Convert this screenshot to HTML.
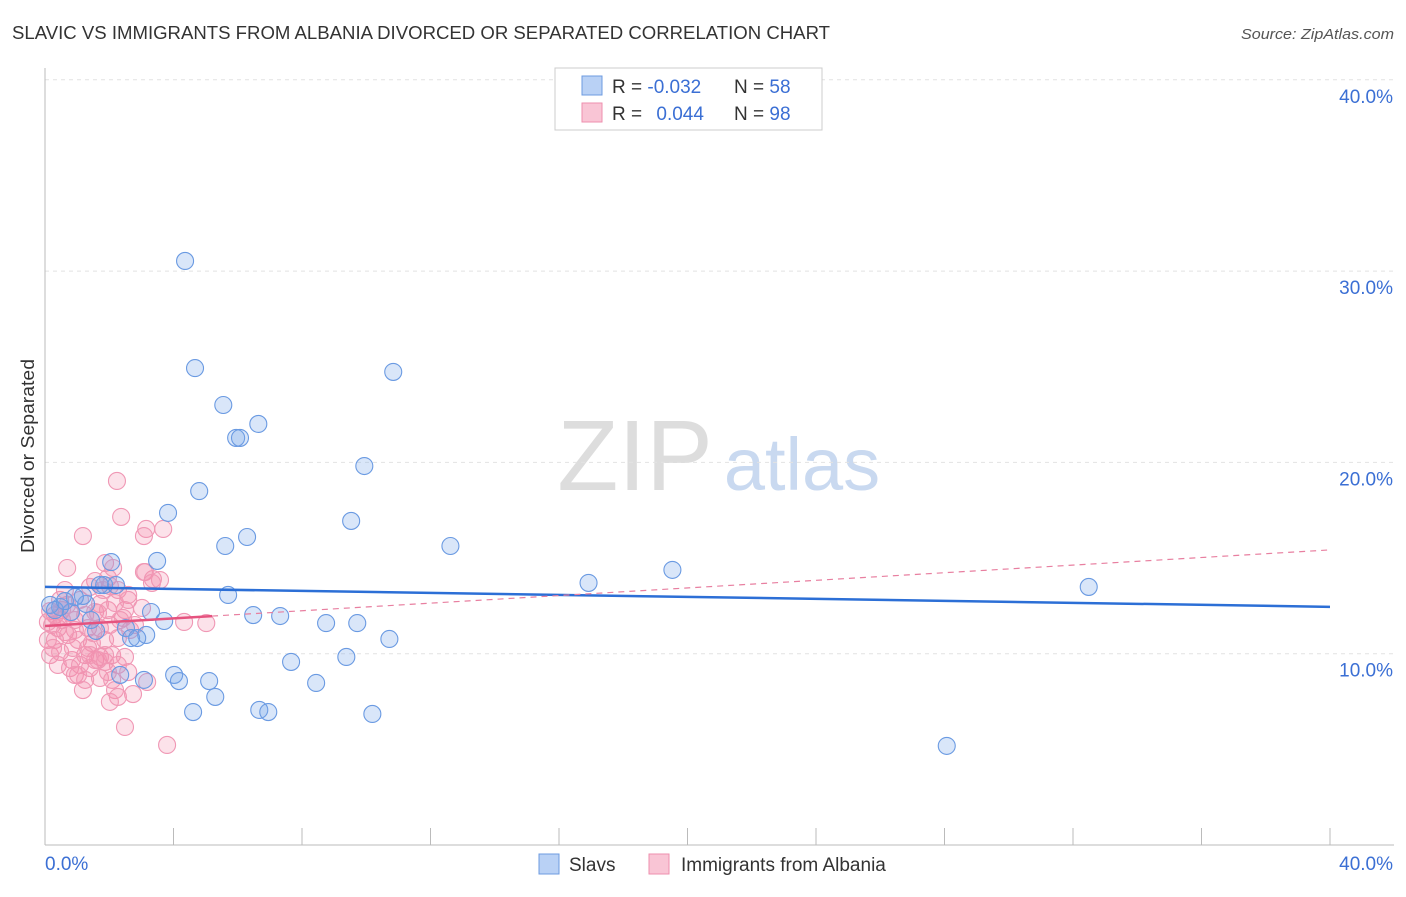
<!DOCTYPE html>
<html><head><meta charset="utf-8"><style>
body{margin:0;background:#fff;font-family:"Liberation Sans",sans-serif;}
svg text{font-family:"Liberation Sans",sans-serif;}
</style></head><body>
<svg id="chart" width="1406" height="892" viewBox="0 0 1406 892" xmlns="http://www.w3.org/2000/svg">
<text x="12" y="39" font-size="18" fill="#333" textLength="818" lengthAdjust="spacingAndGlyphs">SLAVIC VS IMMIGRANTS FROM ALBANIA DIVORCED OR SEPARATED CORRELATION CHART</text>
<text x="1394" y="39" font-size="15" fill="#555" text-anchor="end" font-style="italic" textLength="153" lengthAdjust="spacingAndGlyphs">Source: ZipAtlas.com</text>
<g>
<text x="635" y="490" font-size="100" fill="#ddd" text-anchor="middle" font-family="Liberation Serif, serif">ZIP</text>
<text x="802" y="490" font-size="74" fill="#c9d9f0" text-anchor="middle">atlas</text>
</g>
<g id="grid"></g>
<g id="axes"></g>
<text transform="translate(34,456) rotate(-90)" font-size="18" fill="#333" text-anchor="middle" textLength="194" lengthAdjust="spacingAndGlyphs">Divorced or Separated</text>
<g id="pts"></g>
<g id="trend"></g>
<g>
<rect x="555" y="68" width="267" height="62" fill="#fff" stroke="#ccc"/>
<rect x="582" y="76" width="20" height="19" fill="#b9d1f5" stroke="#6d9be0"/>
<rect x="582" y="103" width="20" height="19" fill="#f9c5d5" stroke="#ee8fae"/>
<text x="612" y="93" font-size="19" fill="#333">R = <tspan fill="#3b6fd4">-0.032</tspan><tspan x="734">N = </tspan><tspan fill="#3b6fd4">58</tspan></text>
<text x="612" y="120" font-size="19" fill="#333">R = <tspan fill="#3b6fd4" dx="9">0.044</tspan><tspan x="734">N = </tspan><tspan fill="#3b6fd4">98</tspan></text>
</g>
<g>
<rect x="539" y="854" width="20" height="20" fill="#b9d1f5" stroke="#6d9be0"/>
<text x="569" y="871" font-size="19" fill="#333">Slavs</text>
<rect x="649" y="854" width="20" height="20" fill="#f9c5d5" stroke="#ee8fae"/>
<text x="681" y="871" font-size="19" fill="#333">Immigrants from Albania</text>
</g>
</svg>
<script>
const yTicks=[10,20,30,40];
const yTickLabels=["10.0%","20.0%","30.0%","40.0%"];
const xEdgeLabels=["0.0%","40.0%"];
const slavsX=[4.36,4.67,10.84,5.55,6.64,5.95,6.07,9.94,4.80,9.53,3.83,6.29,5.61,12.62,3.49,2.06,16.92,19.53,32.49,5.70,1.84,2.21,3.30,3.71,6.48,7.32,8.75,9.72,2.52,3.15,2.68,2.87,10.72,1.59,0.81,0.47,7.66,9.38,4.02,4.17,5.11,3.08,8.44,5.30,4.61,6.67,6.95,10.19,28.07,0.16,0.31,1.28,1.43,1.18,0.93,0.62,1.71,2.34];
const slavsY=[30.53,24.93,24.73,23.0,22.01,21.28,21.28,19.81,18.5,16.94,17.36,16.1,15.63,15.63,14.85,14.79,13.70,14.38,13.49,13.07,13.59,13.59,12.18,11.71,12.02,11.97,11.60,11.60,11.34,10.98,10.82,10.82,10.77,11.19,12.18,12.44,9.57,9.83,8.89,8.57,8.57,8.63,8.47,7.74,6.95,7.06,6.95,6.85,5.18,12.55,12.28,12.60,11.76,13.02,12.96,12.75,13.59,8.89];
const albX=[2.24,2.37,1.18,3.15,3.68,3.08,0.69,1.87,2.12,3.08,3.36,1.96,2.02,1.56,1.40,2.27,2.59,0.47,1.09,1.71,0.16,0.31,0.53,0.78,0.93,1.25,1.56,1.96,2.49,3.02,4.33,5.02,0.22,0.40,0.62,0.93,1.34,1.71,2.02,0.09,0.31,0.72,1.03,1.46,1.87,2.27,2.65,0.16,0.47,0.84,1.25,1.56,1.71,2.09,2.49,2.27,0.40,0.78,1.09,1.40,1.87,0.93,1.25,1.71,2.09,2.59,2.18,2.02,2.27,2.74,2.49,3.80,3.18,3.12,3.58,0.53,0.69,1.65,1.34,1.03,0.40,0.09,0.25,0.87,1.50,2.43,1.81,2.18,2.59,0.62,1.87,1.18,2.34,2.80,3.33,1.65,1.40,1.96];
const albY=[19.03,17.15,16.15,16.52,16.52,16.15,14.48,14.74,14.48,14.27,13.90,13.96,13.54,13.80,13.49,13.33,13.07,12.81,12.81,12.60,12.23,12.02,11.76,12.13,11.76,12.02,12.18,12.28,12.28,12.39,11.66,11.60,11.50,11.34,11.13,11.24,11.34,11.34,11.50,10.72,10.72,10.98,10.72,10.56,10.72,10.82,11.24,9.93,10.09,9.67,9.93,9.67,9.83,9.93,9.83,9.41,9.41,9.25,9.41,9.25,9.57,8.89,8.63,8.73,8.63,9.04,8.10,7.48,7.74,7.89,6.17,5.23,8.52,14.27,13.85,12.28,12.55,9.67,10.30,8.89,11.87,11.66,10.30,10.30,11.08,11.87,13.33,12.65,12.81,13.33,9.93,8.10,11.76,11.50,13.70,12.13,9.93,9.04];
const slavsTrend=[13.49,-0.026];
const albTrend=[11.45,0.0994];
const albSolidEnd=5.2;

const NS="http://www.w3.org/2000/svg";
const X0=45,X1=1330,Y0=845,PY=19.13;
const sx=v=>X0+(X1-X0)*v/40;
const sy=v=>Y0-v*PY;
function mk(tag,attrs,parent){const e=document.createElementNS(NS,tag);for(const k in attrs)e.setAttribute(k,attrs[k]);parent.appendChild(e);return e;}
const grid=document.getElementById('grid'),axes=document.getElementById('axes'),pts=document.getElementById('pts'),trend=document.getElementById('trend');
yTicks.forEach((t,i)=>{
 const l=mk('line',{x1:45,x2:1394,y1:sy(t),y2:sy(t),stroke:'#e2e2e2','stroke-dasharray':'4,4'},grid);
 
 
 const tx=mk('text',{x:1393,y:sy(t)+23,'font-size':19,fill:'#3b6fd4','text-anchor':'end'},axes);
 tx.textContent=yTickLabels[i];
 
 
});
const ya=mk('line',{x1:45,x2:45,y1:68,y2:845,stroke:'#bbb'},axes);


const xa=mk('line',{x1:45,x2:1394,y1:845,y2:845,stroke:'#bbb'},axes);


for(let i=0;i<=10;i++){
 const t=mk('line',{x1:sx(i*4),x2:sx(i*4),y1:828,y2:845,stroke:'#bbb'},axes);
 
 
}
const xl0=mk('text',{x:45,y:870,'font-size':19,fill:'#3b6fd4'},axes);xl0.textContent=xEdgeLabels[0];


const xl1=mk('text',{x:1393,y:870,'font-size':19,fill:'#3b6fd4','text-anchor':'end'},axes);xl1.textContent=xEdgeLabels[1];


albX.forEach((x,i)=>{
 const c=mk('circle',{cx:sx(x),cy:sy(albY[i]),r:8.5,fill:'rgba(242,140,170,0.25)',stroke:'#f098b5','stroke-width':1.1},pts);
 
 
});
slavsX.forEach((x,i)=>{
 const c=mk('circle',{cx:sx(x),cy:sy(slavsY[i]),r:8.5,fill:'rgba(120,165,235,0.28)',stroke:'#6a9ae2','stroke-width':1.1},pts);
 
 
});
const bt=mk('line',{x1:sx(0),y1:sy(slavsTrend[0]),x2:sx(40),y2:sy(slavsTrend[0]+slavsTrend[1]*40),stroke:'#2c6fd6','stroke-width':2.5},trend);


const pd=mk('line',{x1:sx(albSolidEnd),y1:sy(albTrend[0]+albTrend[1]*albSolidEnd),x2:sx(40),y2:sy(albTrend[0]+albTrend[1]*40),stroke:'#e87fa0','stroke-width':1.2,'stroke-dasharray':'6,5'},trend);


const ps=mk('line',{x1:sx(0),y1:sy(albTrend[0]),x2:sx(albSolidEnd),y2:sy(albTrend[0]+albTrend[1]*albSolidEnd),stroke:'#e5537f','stroke-width':2.5},trend);


</script>
</body></html>
